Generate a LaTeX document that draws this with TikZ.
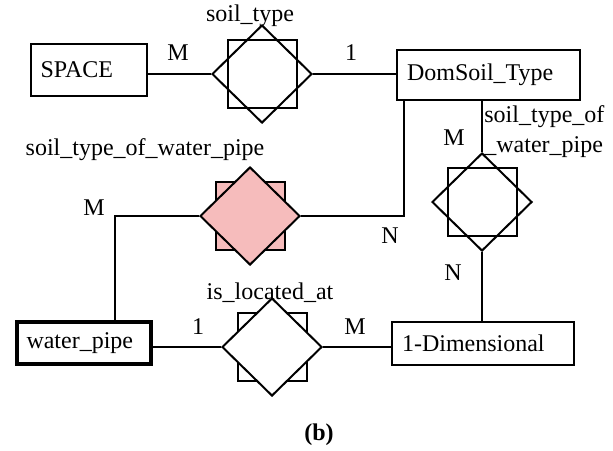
\documentclass[tikz,border=0pt]{standalone}
\usepackage{fontspec}
\setmainfont{Liberation Serif}
\usetikzlibrary{shapes.geometric,positioning,calc}
\definecolor{relpink}{RGB}{246,188,188}

\begin{document}
\begin{tikzpicture}[
    x=0.5pt, y=-0.5pt,
    every node/.style={font=\fontsize{12}{14}\selectfont},
    entity/.style={rectangle, draw, line width=1pt, align=left, inner xsep=5pt, inner ysep=0pt},
    weakentity/.style={entity, line width=2pt},
    relation/.style={diamond, draw, line width=1pt, minimum width=50pt, minimum height=49pt, inner sep=0pt},
    relsq/.style={rectangle, draw, line width=1pt, minimum width=34.5pt, minimum height=34pt, inner sep=0pt},
    conn/.style={line width=1pt},
    card/.style={inner sep=0pt},
    lbl/.style={inner sep=0pt}
]
\useasboundingbox (0,0) rectangle (613,450);

%% ── Entities ─────────────────────────────────────────────────────
\node[entity, text width=48pt, minimum height=26pt] (space) at (88.5,70) {SPACE};
\node[entity, text width=81.5pt, minimum height=25pt] (domsoil) at (488.5,75) {DomSoil\_Type};
\node[weakentity, text width=57pt, minimum height=21pt] (waterpipe) at (83.5,343) {water\_pipe};
\node[entity, text width=81pt, minimum height=21.5pt] (onedim) at (483,343.5) {1-Dimensional};

%% ── Relationships ────────────────────────────────────────────────
\node[relsq] (soiltypeSq) at (262,74) {};
\node[relation] (soiltype) at (262,74) {};

\node[relsq, fill=relpink] (soilpipeSq) at (250,216) {};
\node[relation, fill=relpink] (soilpipe) at (250,216) {};

\node[relsq] (soilpipeBSq) at (482,202) {};
\node[relation] (soilpipeB) at (482,202) {};

\node[relsq] (locatedSq) at (272,347) {};
\node[relation, fill=white] (located) at (272,347) {};

%% ── Connectors ───────────────────────────────────────────────────
\draw[conn] (space.east |- soiltype.west) -- (soiltype.west);
\draw[conn] (soiltype.east) -- (soiltype.east -| domsoil.west);
\draw[conn] (soilpipe.east) -| ([xshift=4pt]domsoil.south west);
\draw[conn] (soilpipe.west) -| ([xshift=50pt]waterpipe.north west);
\draw[conn] (domsoil.south -| soilpipeB.north) -- (soilpipeB.north);
\draw[conn] (soilpipeB.south) -- (soilpipeB.south |- onedim.north);
\draw[conn] (waterpipe.east |- located.west) -- (located.west);
\draw[conn] (located.east) -- (located.east -| onedim.west);

%% ── Relationship names ───────────────────────────────────────────
\node[lbl] (soiltypeLbl) at (250,16) {soil\_type};
\node[lbl] (soilpipeLbl) at (145,150) {soil\_type\_of\_water\_pipe};
\node[lbl, anchor=west, align=left] (soilpipeBLbl) at (484,132) {soil\_type\_of\\[1pt]\_water\_pipe};
\node[lbl] (locatedLbl) at (270,293) {is\_located\_at};

%% ── Cardinalities ────────────────────────────────────────────────
\node[card] (c1) at (178,53) {M};
\node[card] (c2) at (351,53) {1};
\node[card] (c3) at (454,138) {M};
\node[card] (c4) at (94,208) {M};
\node[card] (c5) at (390,236) {N};
\node[card] (c6) at (453,273) {N};
\node[card] (c7) at (198,327) {1};
\node[card] (c8) at (355,327) {M};

%% ── Caption ──────────────────────────────────────────────────────
\node[lbl] (caption) at (319,435) {\textbf{(b)}};

\end{tikzpicture}
\end{document}
